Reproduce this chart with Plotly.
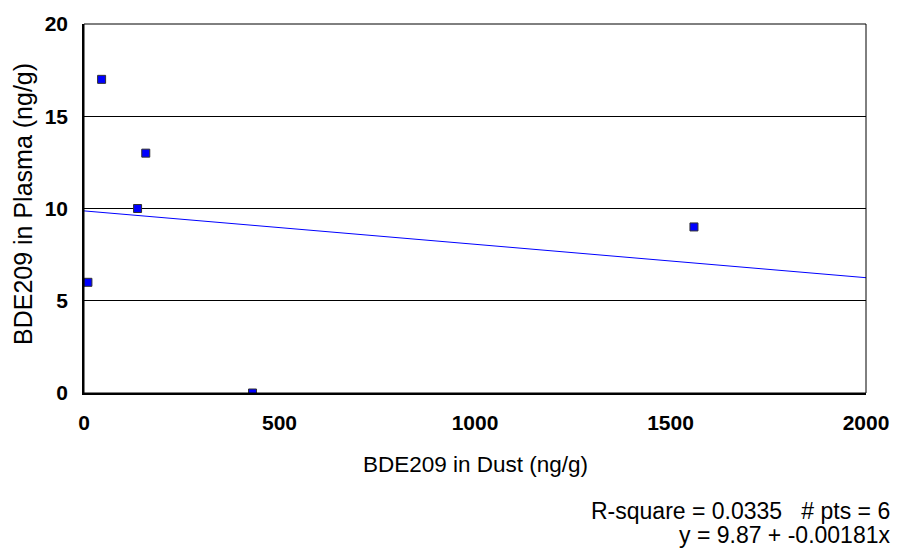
import plotly.graph_objects as go

# Data
dust = [10, 45, 137, 158, 431, 1560]
plasma = [6, 17, 10, 13, 0, 9]
fit_intercept = 9.87
fit_slope = -0.00181
fit_x = [0, 2000]
x_ticks = [0, 500, 1000, 1500, 2000]
y_ticks = [0, 5, 10, 15, 20]
stats_line1 = "R-square = 0.0335   # pts = 6"
stats_line2 = "y = 9.87 + -0.00181x"

FONT = "Liberation Sans, Arial, sans-serif"

fig = go.Figure()
fig.add_trace(go.Scatter(
    x=fit_x, y=[fit_intercept + fit_slope * v for v in fit_x],
    mode="lines", line=dict(color="#0000FF", width=1), hoverinfo="skip",
    showlegend=False))
fig.add_trace(go.Scatter(
    x=dust, y=plasma, mode="markers",
    marker=dict(symbol="square", size=8, color="#0000FF",
                line=dict(color="#303030", width=1)),
    showlegend=False))

fig.update_layout(
    width=901, height=550,
    margin=dict(l=84, r=35, t=22, b=157),
    paper_bgcolor="white", plot_bgcolor="white",
    font=dict(family=FONT, color="black"),
    xaxis=dict(range=[0, 2000], tickvals=x_ticks, showgrid=False,
               showline=True, linecolor="black", linewidth=2,
               ticks="", ticklen=0, ticklabelstandoff=10, zeroline=False,
               tickfont=dict(size=21, weight="bold", family=FONT)),
    yaxis=dict(range=[0, 20], tickvals=y_ticks, showgrid=True,
               gridcolor="black", gridwidth=1,
               showline=True, linecolor="black", linewidth=1.5,
               ticks="", ticklen=0, ticklabelstandoff=10, zeroline=False,
               tickfont=dict(size=21, weight="bold", family=FONT)),
    shapes=[dict(type="rect", xref="paper", yref="paper", x0=0, x1=1, y0=0, y1=1,
                 line=dict(color="black", width=1), layer="above")],
)

def py(pix):
    return (393 - pix) / 371.0

def px(pix):
    return (pix - 84) / 782.0

fig.add_annotation(text="BDE209 in Plasma (ng/g)", xref="paper", yref="paper",
                   x=px(23), y=py(203), textangle=-90, showarrow=False,
                   xanchor="center", yanchor="middle",
                   font=dict(size=25, family=FONT))
fig.add_annotation(text="BDE209 in Dust (ng/g)", xref="paper", yref="paper",
                   x=px(475), y=py(465), showarrow=False,
                   xanchor="center", yanchor="middle",
                   font=dict(size=22.5, family=FONT))
fig.add_annotation(text=stats_line1, xref="paper", yref="paper",
                   x=px(891), y=py(512), showarrow=False,
                   xanchor="right", yanchor="middle", borderpad=0,
                   font=dict(size=23, family=FONT))
fig.add_annotation(text=stats_line2, xref="paper", yref="paper",
                   x=px(891), y=py(536), showarrow=False,
                   xanchor="right", yanchor="middle", borderpad=0,
                   font=dict(size=23, family=FONT))

fig.write_html("out.html")
